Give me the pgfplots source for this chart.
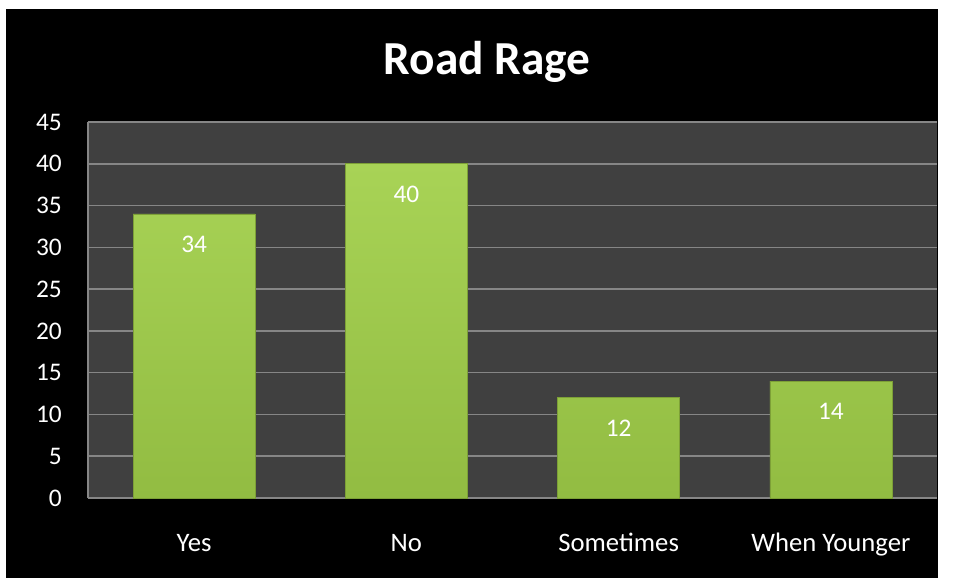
\documentclass[border=0pt]{standalone}
\usepackage{pgfplots}
\pgfplotsset{compat=1.18}
\usepackage{fontspec}
\setmainfont{Carlito}
\definecolor{plotgray}{RGB}{64,64,64}
\definecolor{gridgray}{RGB}{134,134,134}
\definecolor{bartop}{RGB}{168,211,86}
\definecolor{barbot}{RGB}{146,188,66}
\definecolor{baredge}{RGB}{125,160,55}
\begin{document}
\begin{tikzpicture}
% 1 px of the reference = 0.75pt; origin = lower left of the plot area
\fill[white] (-66pt,-60pt) rectangle (650.25pt,373.5pt);
\fill[black] (-61.5pt,-60pt) rectangle (637.5pt,366.75pt);
\node[white, font=\fontsize{35.5}{42}\selectfont\bfseries, anchor=base] at (299.25pt,317.25pt) {Road Rage};
\begin{axis}[
    at={(0,0)}, anchor=south west,
    scale only axis,
    width=636.75pt, height=282pt,
    axis background/.style={fill=plotgray},
    ybar, bar width=91.5pt,
    xmin=-0.5, xmax=3.5,
    ymin=0, ymax=45,
    ytick={0,5,...,45},
    xtick=data,
    xticklabels={Yes, No, Sometimes, When Younger},
    ymajorgrids,
    grid style={gridgray, line width=1.1pt},
    axis lines*=left,
    axis line style={-, draw=gridgray, line width=1.1pt},
    tick style={draw=none},
    /pgf/number format/assume math mode=true,
    ticklabel style={white, inner sep=0pt},
    yticklabel style={font=\fontsize{19}{23}\selectfont, anchor=east, xshift=-19.5pt},
    xticklabel style={font=\fontsize{20}{24}\selectfont, anchor=base, yshift=-35.5pt},
    nodes near coords,
    nodes near coords style={white, font=\fontsize{19}{23}\selectfont, anchor=center, yshift=-23pt},
]
\addplot[draw=baredge, line width=0.5pt, top color=bartop, bottom color=barbot]
    coordinates {(0,34) (1,40) (2,12) (3,14)};
\end{axis}
\end{tikzpicture}
\end{document}
